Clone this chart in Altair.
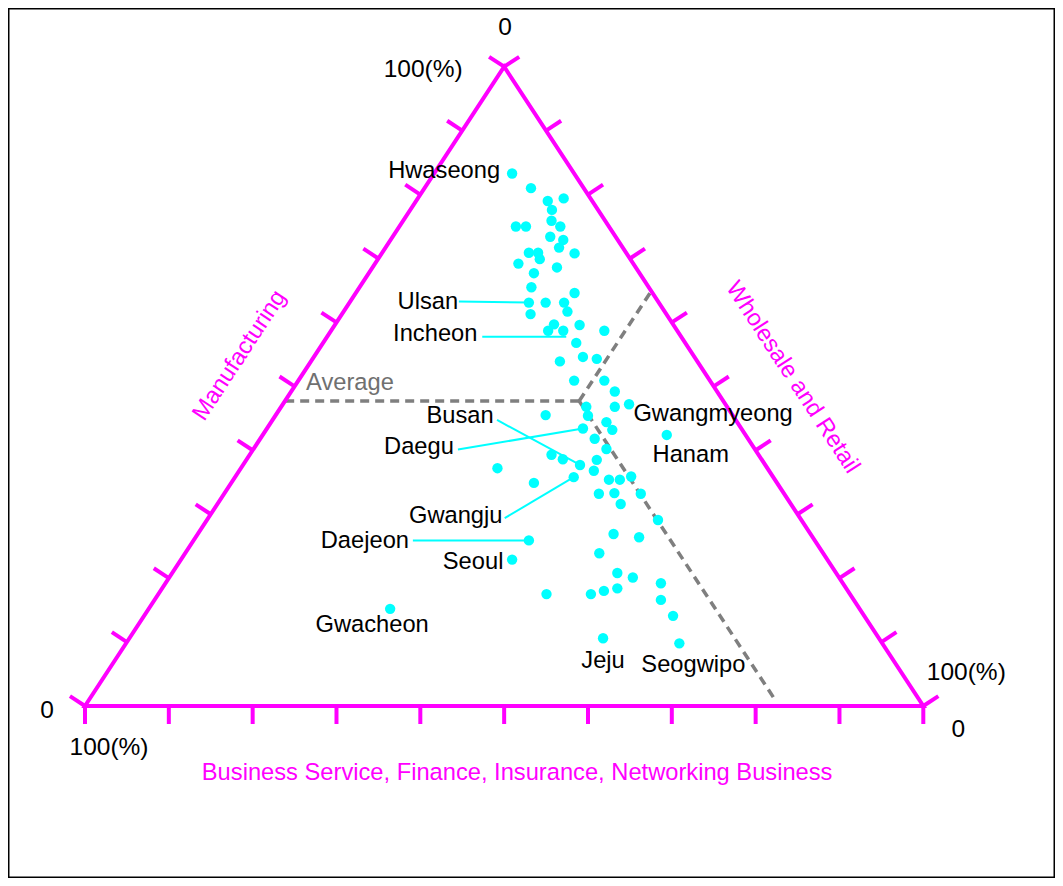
import math
import altair as alt
import pandas as pd

# ---------------- values (percent shares) ----------------
labeled_city = ["Hwaseong", "Ulsan", "Incheon", "Gwangmyeong", "Daegu", "Hanam", "Busan",
                "Gwangju", "Daejeon", "Seoul", "Gwacheon", "Jeju", "Seogwipo"]
labeled_mfg = [83.3, 63.1, 58.7, 47.2, 43.4, 42.4, 37.7, 35.8, 25.9, 22.9, 15.2, 10.6, 9.8]
labeled_whs = [9.3, 21.4, 27.7, 41.3, 37.7, 48.2, 40.2, 40.4, 40.0, 39.5, 28.8, 56.5, 66.0]

other_mfg = [81.0, 79.0, 79.4, 77.6, 75.9, 75.0, 75.0, 75.0, 73.4, 72.9, 71.7, 70.9, 70.9,
             69.9, 70.8, 69.2, 67.7, 68.6, 65.5, 64.6, 63.1, 63.1, 61.7, 61.3, 59.7, 59.6,
             58.7, 58.7, 56.8, 54.6, 54.3, 53.9, 50.9, 50.9, 49.2, 46.8, 46.8, 45.5, 45.4,
             44.4, 43.2, 41.8, 40.2, 39.3, 38.6, 38.5, 37.2, 36.8, 34.9, 35.4, 35.4, 35.9,
             33.2, 33.3, 33.2, 31.6, 29.1, 26.9, 26.4, 23.9, 20.8, 20.1, 19.2, 17.5, 17.5,
             18.0, 18.4, 16.6, 14.1]
other_whs = [12.7, 15.7, 17.4, 16.9, 17.7, 19.2, 13.9, 15.1, 18.8, 20.6, 20.7, 17.5, 18.6,
             19.3, 23.0, 17.1, 19.7, 22.0, 20.5, 26.1, 23.4, 25.6, 26.7, 22.5, 26.1, 29.2,
             25.9, 32.6, 30.2, 32.1, 33.9, 29.7, 32.9, 36.5, 38.6, 39.8, 36.4, 32.2, 37.3,
             40.0, 41.3, 39.9, 42.1, 36.0, 37.7, 41.8, 30.6, 42.3, 36.1, 44.8, 46.1, 47.2,
             44.7, 46.5, 49.7, 48.1, 53.8, 49.6, 52.9, 49.4, 53.1, 55.3, 59.1, 46.3, 51.6,
             52.9, 54.3, 60.4, 63.1]

average_mfg = 47.7
average_whs = 35.1
tick_values = list(range(0, 101, 10))
axis_titles = ["Manufacturing", "Wholesale and Retail",
               "Business Service, Finance, Insurance, Networking Business"]
corner_texts = ["0", "100(%)", "0", "100(%)", "100(%)", "0"]

# ---------------- layout / style ----------------
W_PX, H_PX = 1047, 870
X_RANGE = [77, 915.3]
Y_RANGE = [698, 58.7]
SX = X_RANGE[1] - X_RANGE[0]
SY = Y_RANGE[0] - Y_RANGE[1]
MAGENTA = "#FF00FF"
CYAN = "#00FFFF"
GRAY = "#7f7f7f"
FONT = "Liberation Sans"
FS = 23.7
TICK_LEN = 18

# label offsets (pixels) relative to each city's point; optional leader line ends
label_style = {
    "Hwaseong": {"off": (-68, -2)},
    "Ulsan": {"off": (-101, -1), "lead": ((-70, -1), (0, 0))},
    "Incheon": {"off": (-128, 3), "lead": ((-81, 6), (3, 6))},
    "Gwangmyeong": {"off": (84, 10)},
    "Daegu": {"off": (-164, 18), "lead": ((-125, 21), (0, 0))},
    "Hanam": {"off": (24, 20)},
    "Busan": {"off": (-120, -49), "lead": ((-83, -45), (0, 0))},
    "Gwangju": {"off": (-118, 39), "lead": ((-69, 41), (0, 0))},
    "Daejeon": {"off": (-164, 1), "lead": ((-116, 0), (0, 0))},
    "Seoul": {"off": (-39, 2)},
    "Gwacheon": {"off": (-18, 16)},
    "Jeju": {"off": (0, 23)},
    "Seogwipo": {"off": (14, 22)},
}


def tern(m, w):
    """manufacturing %, wholesale % -> normalized cartesian (x, y)."""
    return w / 100 + 0.5 * m / 100, m / 100


def shift(pt, dx, dy):
    """shift a normalized point by a pixel offset."""
    return pt[0] + dx / SX, pt[1] - dy / SY


XS = alt.Scale(domain=[0, 1], range=X_RANGE, nice=False, zero=False)
YS = alt.Scale(domain=[0, 1], range=Y_RANGE, nice=False, zero=False)


def xy():
    return dict(x=alt.X("x:Q", scale=XS, axis=None), y=alt.Y("y:Q", scale=YS, axis=None))


def xy2():
    d = xy()
    d.update(x2="x2:Q", y2="y2:Q")
    return d


apex = tern(100, 0)
bl = tern(0, 0)
br = tern(0, 100)

# triangle outline
outline = pd.DataFrame([{"x": p[0], "y": p[1], "o": i} for i, p in enumerate([br, bl, apex, br, bl])])
outline_layer = alt.Chart(outline).mark_line(color=MAGENTA, strokeWidth=4, strokeJoin="miter").encode(
    order="o:Q", **xy())

# ticks
edge_len = math.hypot(0.5 * SX, SY)
px_l = (-SY / edge_len * TICK_LEN, -0.5 * SX / edge_len * TICK_LEN)
px_r = (SY / edge_len * TICK_LEN, -0.5 * SX / edge_len * TICK_LEN)
rows = []
for t in tick_values:
    p = tern(t, 0)
    q = shift(p, *px_l)
    rows.append({"x": p[0], "y": p[1], "x2": q[0], "y2": q[1]})
    p = tern(100 - t, t)
    q = shift(p, *px_r)
    rows.append({"x": p[0], "y": p[1], "x2": q[0], "y2": q[1]})
    p = tern(0, 100 - t)
    q = shift(p, 0, TICK_LEN)
    rows.append({"x": p[0], "y": p[1], "x2": q[0], "y2": q[1]})
tick_layer = alt.Chart(pd.DataFrame(rows)).mark_rule(color=MAGENTA, strokeWidth=4).encode(**xy2())

# average dashed lines
avg = tern(average_mfg, average_whs)
avg_b = 100 - average_mfg - average_whs
ends = [tern(average_mfg, 0), tern(100 - average_whs, average_whs), tern(1.2, 100 - avg_b - 1.2)]
avg_df = pd.DataFrame([{"x": avg[0], "y": avg[1], "x2": e[0], "y2": e[1]} for e in ends])
avg_layer = alt.Chart(avg_df).mark_rule(color=GRAY, strokeWidth=3.5, strokeDash=[9, 6]).encode(**xy2())
avg_lbl_pt = shift(ends[0], 65, -18)
avg_text = alt.Chart(pd.DataFrame([{"x": avg_lbl_pt[0], "y": avg_lbl_pt[1], "t": "Average"}])).mark_text(
    font=FONT, fontSize=FS, color="#707070", align="center", baseline="middle").encode(text="t:N", **xy())

# points
pts = pd.DataFrame(
    [dict(zip(("x", "y"), tern(m, w))) for m, w in zip(other_mfg + labeled_mfg, other_whs + labeled_whs)])
point_layer = alt.Chart(pts).mark_circle(size=108, color=CYAN, opacity=1).encode(**xy())

# labels and leaders
lab_rows, lead_rows = [], []
for c, m, w in zip(labeled_city, labeled_mfg, labeled_whs):
    p = tern(m, w)
    st = label_style[c]
    lp = shift(p, *st["off"])
    lab_rows.append({"x": lp[0], "y": lp[1], "t": c})
    if "lead" in st:
        a = shift(p, *st["lead"][0])
        b = shift(p, *st["lead"][1])
        lead_rows.append({"x": a[0], "y": a[1], "x2": b[0], "y2": b[1]})
lead_layer = alt.Chart(pd.DataFrame(lead_rows)).mark_rule(color=CYAN, strokeWidth=2).encode(**xy2())
label_layer = alt.Chart(pd.DataFrame(lab_rows)).mark_text(
    font=FONT, fontSize=FS, color="black", align="center", baseline="middle").encode(text="t:N", **xy())

# corner labels
corner_pos = [shift(apex, 1, -39), shift(apex, -81, 3), shift(bl, -38, 5),
              shift(bl, 24, 42), shift(br, 43, -33), shift(br, 35, 24)]
corner_df = pd.DataFrame([{"x": p[0], "y": p[1], "t": t} for p, t in zip(corner_pos, corner_texts)])
corner_layer = alt.Chart(corner_df).mark_text(
    font=FONT, fontSize=24.5, color="black", align="center", baseline="middle").encode(text="t:N", **xy())

# axis titles
edge_ang = math.degrees(math.atan2(SY, 0.5 * SX))
title_pos = [shift(tern(50, 0), -55, -31), shift(tern(50, 50), 79, -9), shift(tern(0, 50), 13, 67)]
title_angles = [360 - edge_ang, edge_ang, 0]
title_layers = []
for t, p, a in zip(axis_titles, title_pos, title_angles):
    title_layers.append(
        alt.Chart(pd.DataFrame([{"x": p[0], "y": p[1], "t": t}])).mark_text(
            font=FONT, fontSize=FS, color=MAGENTA, align="center", baseline="middle", angle=round(a, 2)
        ).encode(text="t:N", **xy()))

chart = alt.layer(
    avg_layer, outline_layer, tick_layer, lead_layer, point_layer, label_layer,
    corner_layer, avg_text, *title_layers
).properties(
    width=W_PX, height=H_PX, padding=0, autosize=alt.AutoSizeParams(type="none"),
    background="white"
).configure_view(stroke="black", strokeWidth=3)

chart.save("out.html", embed_options={"renderer": "svg", "actions": False})
